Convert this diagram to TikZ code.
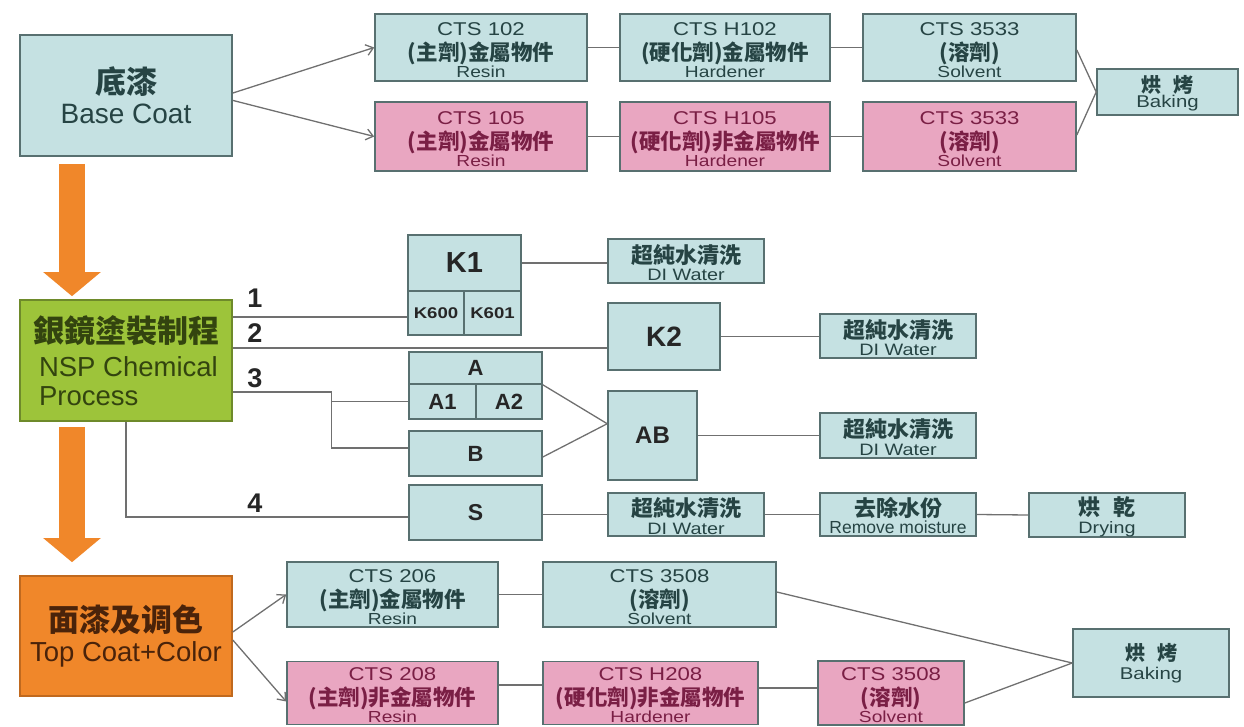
\documentclass[tikz,border=0pt]{standalone}
\usepackage{fontspec}
\setmainfont{Liberation Sans}
\newfontfamily\wide{Liberation Sans}[FakeStretch=1.2]
\newfontfamily\cjk{Noto Sans CJK TC}
\usetikzlibrary{arrows.meta,calc}
\definecolor{tealf}{HTML}{C5E1E2}
\definecolor{tealt}{HTML}{264444}
\definecolor{bordc}{HTML}{587070}
\definecolor{pinkf}{HTML}{E9A6C1}
\definecolor{pinkt}{HTML}{7A1F45}
\definecolor{greenf}{HTML}{9DC43A}
\definecolor{greenb}{HTML}{6E8A2A}
\definecolor{greent}{HTML}{33440F}
\definecolor{orangef}{HTML}{F0872A}
\definecolor{orangeb}{HTML}{C0691E}
\definecolor{oranget}{HTML}{4A230A}
\definecolor{linec}{HTML}{707070}
\definecolor{labc}{HTML}{262626}
\newcommand\myfs[1]{\fontsize{#1}{#1}\selectfont}
\newcommand\cts[3]{{\rule{0pt}{17.5pt}\wide\myfs{18.5}#1}\\[5pt]{\cjk\bfseries\myfs{21.5}#2}\\{\wide\myfs{16}#3}}
\newcommand\duo[2]{{\rule{0pt}{22pt}\cjk\bfseries\myfs{22}#1}\\{\wide\myfs{16.5}#2}}
\begin{document}
\begin{tikzpicture}[x=1pt,y=-1pt,
  tbox/.style={draw=bordc, fill=tealf, line width=1.6pt, inner sep=0pt, align=center, text=tealt, font=\fontsize{18}{18.5}\selectfont},
  ctsbox/.style={tbox, font=\fontsize{18}{17}\selectfont},
  pbox/.style={ctsbox, fill=pinkf, text=pinkt},
  bigbox/.style={tbox, minimum width=212pt, font=\fontsize{28}{30}\selectfont},
  bold/.style={tbox, text=labc},
  conn/.style={draw=linec, line width=1.3pt},
  arr/.style={conn, -{Straight Barb[length=7pt,width=11pt]}},
  orarrow/.style={draw=orangef, line width=26pt, -{Triangle[width=56pt,length=24pt]}},
  numlab/.style={inner sep=0pt, text=labc, font=\bfseries\fontsize{27}{27}\selectfont}
]
\useasboundingbox (0,0) rectangle (1244,727);

% ---- top section: base coat
\node[bigbox, minimum height=121pt] (base) at (126,95.5)
  {{\cjk\bfseries\myfs{31}底漆}\\{\myfs{28}Base Coat}};
\node[ctsbox, minimum width=212pt, minimum height=67pt] (r1a) at (481,47.5) {\cts{CTS 102}{(主劑)金屬物件}{Resin}};
\node[ctsbox, minimum width=210pt, minimum height=67pt] (r1b) at (725,47.5) {\cts{CTS H102}{(硬化劑)金屬物件}{Hardener}};
\node[ctsbox, minimum width=213pt, minimum height=67pt] (r1c) at (969.5,47.5) {\cts{CTS 3533}{(溶劑)}{Solvent}};
\node[pbox, minimum width=212pt, minimum height=69pt] (r2a) at (481,136.5) {\cts{CTS 105}{(主劑)金屬物件}{Resin}};
\node[pbox, minimum width=210pt, minimum height=69pt] (r2b) at (725,136.5) {\cts{CTS H105}{(硬化劑)非金屬物件}{Hardener}};
\node[pbox, minimum width=213pt, minimum height=69pt] (r2c) at (969.5,136.5) {\cts{CTS 3533}{(溶劑)}{Solvent}};
\node[tbox, minimum width=141pt, minimum height=46pt, font=\fontsize{17}{15.5}\selectfont] (bake1) at (1167.5,92)
  {{\rule{0pt}{20pt}\cjk\bfseries\myfs{20}烘\hspace{0.6em}烤}\\{\wide\myfs{17}Baking}};

\draw[arr] ($(base.north east)!0.48!(base.south east)$) -- (r1a.west);
\draw[arr] ($(base.north east)!0.54!(base.south east)$) -- (r2a.west);
\draw[conn] (r1a.east) -- (r1b.west);
\draw[conn] (r1b.east) -- (r1c.west);
\draw[conn] (r2a.east) -- (r2b.west);
\draw[conn] (r2b.east) -- (r2c.west);
\draw[conn] ([yshift=-2.5pt]r1c.east) -- (bake1.west);
\draw[conn] ([yshift=1.5pt]r2c.east) -- (bake1.west);

% ---- middle section: NSP
\node[bigbox, fill=greenf, draw=greenb, text=greent, align=left, minimum height=121pt, font=\fontsize{27.5}{29}\selectfont] (nsp) at (126,360.5)
  {{\cjk\bfseries\myfs{31}銀鏡塗裝制程}\\[5pt]\hspace*{6pt}NSP Chemical\\\hspace*{6pt}Process};

\node[bold, minimum width=113pt, minimum height=56pt] (K1) at (464.5,263) {\bfseries\myfs{29}K1};
\node[bold, minimum width=56pt, minimum height=44pt] (K600) at (436,313) {\wide\bfseries\myfs{15.5}K600};
\node[bold, minimum width=57pt, minimum height=44pt] (K601) at (492.5,313) {\wide\bfseries\myfs{15.5}K601};
\node[tbox, minimum width=156pt, minimum height=44pt, font=\fontsize{17}{17.5}\selectfont] (di1) at (686,261) {\duo{超純水清洗}{DI Water}};

\node[bold, minimum width=112pt, minimum height=67pt] (K2) at (664,336.5) {\bfseries\myfs{28}K2};
\node[tbox, minimum width=156pt, minimum height=44pt, font=\fontsize{17}{17.5}\selectfont] (di2) at (898,336) {\duo{超純水清洗}{DI Water}};

\node[bold, minimum width=133pt, minimum height=32pt] (A) at (475.5,368) {\bfseries\myfs{22}A};
\node[bold, minimum width=67pt, minimum height=35pt] (A1) at (442.5,401.5) {\bfseries\myfs{22}A1};
\node[bold, minimum width=66pt, minimum height=35pt] (A2) at (509,401.5) {\bfseries\myfs{22}A2};
\node[bold, minimum width=133pt, minimum height=45pt] (B) at (475.5,453.5) {\bfseries\myfs{22}B};
\node[bold, minimum width=89pt, minimum height=89pt] (AB) at (652.5,435.5) {\bfseries\myfs{24}AB};
\node[tbox, minimum width=156pt, minimum height=45pt, font=\fontsize{17}{17.5}\selectfont] (di3) at (898,435.5) {\duo{超純水清洗}{DI Water}};

\node[bold, minimum width=133pt, minimum height=55pt] (S) at (475.5,512.5) {\bfseries\myfs{23}S};
\node[tbox, minimum width=156pt, minimum height=43pt, font=\fontsize{17}{17.5}\selectfont] (di4) at (686,514.5) {\duo{超純水清洗}{DI Water}};
\node[tbox, minimum width=156pt, minimum height=43pt, font=\fontsize{17}{17}\selectfont] (rm) at (898,514.5) {{\rule{0pt}{22pt}\cjk\bfseries\myfs{22}去除水份}\\{\myfs{17.5}Remove moisture}};
\node[tbox, minimum width=156pt, minimum height=44pt, font=\fontsize{17}{17.5}\selectfont] (dry) at (1107,515) {\duo{烘\hspace{0.6em}乾}{Drying}};

\node[numlab] (n1) at (255,298) {1};
\node[numlab] (n2) at (255,333) {2};
\node[numlab] (n3) at (255,378) {3};
\node[numlab] (n4) at (255,503) {4};

\coordinate (p1) at ([yshift=43.5pt]nsp.east);
\coordinate (p2) at ([yshift=12.5pt]nsp.east);
\coordinate (p3) at ([yshift=-31.5pt]nsp.east);
\coordinate (j3) at ($(p3)+(99,0)$);
\coordinate (qB) at ([yshift=5.5pt]B.west);
\coordinate (qS) at ([yshift=-4.5pt]S.west);
\coordinate (ABin) at ($(AB.north west)!0.37!(AB.south west)$);
\draw[conn] (p1) -- (p1 -| K600.west);
\draw[conn] (p2) -- (p2 -| K2.west);
\draw[conn] (p3) -- (j3) -- (j3 |- qB) -- (qB);
\draw[conn] (j3 |- A1.west) -- (A1.west);
\draw[conn] (nsp.south) |- (qS);
\draw[conn] (K1.east) -- (K1.east -| di1.west);
\draw[conn] (K2.east) -- (K2.east -| di2.west);
\draw[conn] (A.south east) -- (ABin);
\draw[conn] ([yshift=-3.5pt]B.east) -- (ABin);
\draw[conn] (AB.east) -- (AB.east -| di3.west);
\draw[conn] ([yshift=-2pt]S.east) -- (di4.west);
\draw[conn] (di4.east) -- (rm.west);
\draw[conn] (rm.east) -- (dry.west);

% ---- bottom section: top coat
\node[bigbox, fill=orangef, draw=orangeb, text=oranget, minimum height=120pt, font=\fontsize{27.5}{30}\selectfont] (top) at (126,636)
  {{\cjk\bfseries\myfs{31}面漆及调色}\\{\myfs{27.5}Top Coat+Color}};
\node[ctsbox, minimum width=211pt, minimum height=65pt] (b1a) at (392.5,594.5) {\cts{CTS 206}{(主劑)金屬物件}{Resin}};
\node[ctsbox, minimum width=233pt, minimum height=65pt] (b1b) at (659.5,594.5) {\cts{CTS 3508}{(溶劑)}{Solvent}};
\node[pbox, minimum width=211pt, minimum height=63pt] (b2a) at (392.5,693) {\cts{CTS 208}{(主劑)非金屬物件}{Resin}};
\node[pbox, minimum width=215pt, minimum height=63pt] (b2b) at (650.5,693) {\cts{CTS H208}{(硬化劑)非金屬物件}{Hardener}};
\node[pbox, minimum width=146pt, minimum height=64pt] (b2c) at (891,693) {\cts{CTS 3508}{(溶劑)}{Solvent}};
\node[tbox, minimum width=156pt, minimum height=68pt, font=\fontsize{17}{19}\selectfont] (bake2) at (1151,663)
  {{\cjk\bfseries\myfs{20}烘\hspace{0.6em}烤}\\{\wide\myfs{17}Baking}};

\draw[arr] ([yshift=4pt]top.east) -- (b1a.west);
\draw[arr] ([yshift=-4pt]top.east) -- ([yshift=-8.5pt]b2a.west);
\draw[conn] (b1a.east) -- (b1a.east -| b1b.west);
\coordinate (c2) at ([yshift=8pt]b2a.east);
\draw[conn] (c2) -- (c2 -| b2b.west);
\coordinate (c3) at ([yshift=5pt]b2b.east);
\draw[conn] (c3) -- (c3 -| b2c.west);
\draw[conn] ([yshift=2.5pt]b1b.east) -- (bake2.west);
\draw[conn] ([yshift=-10pt]b2c.east) -- (bake2.west);

% ---- orange process arrows
\draw[orarrow] ([xshift=-54pt,yshift=-7pt]base.south) -- ([xshift=-54pt,yshift=3pt]nsp.north);
\draw[orarrow] ([xshift=-54pt,yshift=-5pt]nsp.south) -- ([xshift=-54pt,yshift=13pt]top.north);
\end{tikzpicture}
\end{document}
